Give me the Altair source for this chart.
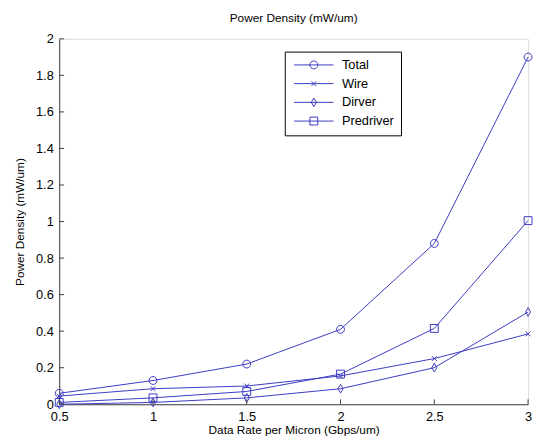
import altair as alt
import pandas as pd

rates = [0.5, 1.0, 1.5, 2.0, 2.5, 3.0]
series_names = ["Total", "Wire", "Dirver", "Predriver"]
total = [0.06, 0.13, 0.22, 0.41, 0.88, 1.90]
wire = [0.045, 0.085, 0.10, 0.155, 0.25, 0.385]
driver = [0.0, 0.01, 0.035, 0.085, 0.20, 0.505]
predriver = [0.01, 0.035, 0.07, 0.165, 0.415, 1.005]
y_ticks = [0, 0.2, 0.4, 0.6, 0.8, 1.0, 1.2, 1.4, 1.6, 1.8, 2.0]
x_ticks = [0.5, 1.0, 1.5, 2.0, 2.5, 3.0]

BLUE = "#3a3ac2"
FONT = "Liberation Sans"

rows = []
for name, vals in zip(series_names, [total, wire, driver, predriver]):
    for r, v in zip(rates, vals):
        rows.append({"rate": r, "value": v, "series": name})
df = pd.DataFrame(rows)

CROSS = "M-0.6,-0.6L0.6,0.6M-0.6,0.6L0.6,-0.6"
DIAMOND = "M0,-1.1L0.65,0L0,1.1L-0.65,0Z"
SQUARE = "M-1,-1L1,-1L1,1L-1,1Z"
CIRCLE = "M1,0A1,1,0,1,1,-1,0A1,1,0,1,1,1,0"
LINE = "M-5,0L5,0"
marker_paths = [CIRCLE, CROSS, DIAMOND, SQUARE]
legend_paths = [LINE + p for p in marker_paths]

xs = alt.Scale(domain=[0.5, 3], nice=False, zero=False)
ys = alt.Scale(domain=[0, 2], nice=False)

x_axis = alt.Axis(values=x_ticks, format="~g", title="Data Rate per Micron (Gbps/um)",
                  grid=False, ticks=False, labelPadding=7, titlePadding=1,
                  labelOverlap=False, labelFlush=False, labelFontSize=13, labelFont=FONT,
                  labelColor="black", titleFont=FONT, titleFontSize=12,
                  titleFontWeight="normal", titleColor="black", domainColor="#404040")
y_axis = alt.Axis(values=y_ticks, format="~g", title="Power Density (mW/um)",
                  grid=False, ticks=False, labelPadding=6, titlePadding=9,
                  labelOverlap=False, labelFlush=False, labelFontSize=13, labelFont=FONT,
                  labelColor="black", titleFont=FONT, titleFontSize=12,
                  titleFontWeight="normal", titleColor="black", domainColor="#404040")


def xe():
    return alt.X("rate:Q", scale=xs, axis=x_axis)


def ye():
    return alt.Y("value:Q", scale=ys, axis=y_axis)


lines = alt.Chart(df).mark_line(color=BLUE, strokeWidth=1).encode(
    x=xe(), y=ye(), detail="series:N")

points = alt.Chart(df).mark_point(color=BLUE, filled=False, size=64, strokeWidth=1, opacity=1).encode(
    x=xe(), y=ye(),
    shape=alt.Shape("series:N", scale=alt.Scale(domain=series_names, range=marker_paths), legend=None))

legend_layer = alt.Chart(df).transform_filter("false").mark_point(
    color=BLUE, filled=False, size=64, strokeWidth=1, opacity=1).encode(
    x=xe(), y=ye(),
    shape=alt.Shape("series:N", scale=alt.Scale(domain=series_names, range=legend_paths),
                    legend=alt.Legend(title=None, orient="none", legendX=229, legendY=13,
                                      strokeColor="black", fillColor="white", padding=7,
                                      symbolOffset=16, labelOffset=22, rowPadding=5,
                                      symbolSize=64, symbolStrokeColor=BLUE, symbolStrokeWidth=1,
                                      symbolFillColor="transparent",
                                      labelFont=FONT, labelFontSize=13, labelColor="black")))

ytick_df = pd.DataFrame({"value": y_ticks})
xtick_df = pd.DataFrame({"rate": x_ticks})
yticks = alt.Chart(ytick_df).mark_rule(color="#404040", strokeWidth=1).encode(
    y=ye(), x=alt.value(0), x2=alt.value(5))
xticks = alt.Chart(xtick_df).mark_rule(color="#404040", strokeWidth=1).encode(
    x=xe(), y=alt.value(371), y2=alt.value(366))

chart = alt.layer(lines, points, legend_layer, yticks, xticks).resolve_scale(shape="independent").properties(
    width=476, height=371,
    title=alt.TitleParams("Power Density (mW/um)", font=FONT, fontSize=12, fontWeight="normal",
                          color="black", offset=8),
    autosize=alt.AutoSizeParams(type="none"),
    padding={"left": 52, "top": 28, "right": 5, "bottom": 33},
).configure_view(stroke=None).configure(background="white")

chart.save("out.html", embed_options={"renderer": "svg", "actions": False})
